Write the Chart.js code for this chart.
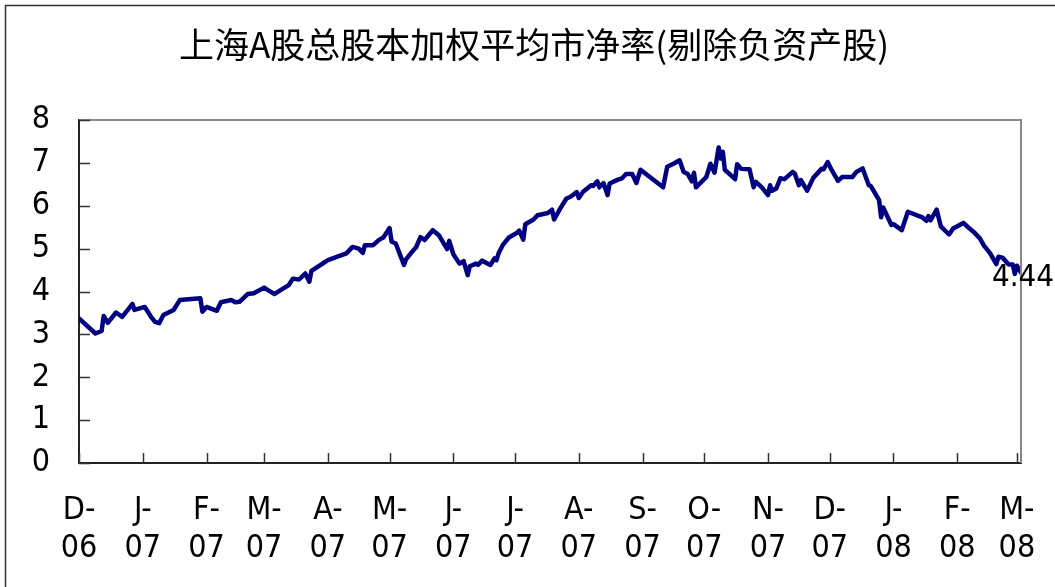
<!DOCTYPE html>
<html>
<head>
<meta charset="utf-8">
<script src="https://cdn.jsdelivr.net/npm/chart.js@4/dist/chart.umd.min.js"></script>
<style>
html,body{margin:0;padding:0;background:#fff;}
#wrap{position:relative;width:1055px;height:587px;}
</style>
</head>
<body>
<div id="wrap"><canvas id="c" width="1055" height="587"></canvas></div>
<script>
const chartTitle = '上海A股总股本加权平均市净率(剔除负资产股)';
const startDate = '2006-12-01';
// trading days, as day offsets from startDate
const dayOffsets = [
  0,8,11,12,14,18,21,26,27,32,
  35,37,39,41,46,49,59,60,62,67,
  69,74,76,78,82,85,90,95,98,102,
  104,107,110,112,113,119,121,130,133,136,
  138,139,143,146,148,151,152,154,158,159,
  162,164,166,168,172,175,179,180,182,185,
  187,189,190,193,194,196,200,202,203,204,
  206,209,213,214,216,217,221,223,228,230,
  231,234,237,239,242,243,245,249,250,252,
  253,255,257,258,262,264,266,269,271,273,
  284,286,289,292,294,296,298,299,300,305,
  307,309,311,312,313,314,319,320,322,326,
  328,329,332,335,336,337,339,341,343,347,
  348,350,351,354,357,361,362,364,366,369,
  371,376,378,381,384,385,389,390,391,395,
  396,400,403,410,412,413,414,417,419,423,
  425,430,432,435,438,440,443,446,447,449,
  452,454,455,456,458
];
const pbValues = [
  3.37,3.02,3.08,3.43,3.27,3.51,3.41,3.71,3.57,3.64,
  3.41,3.29,3.26,3.45,3.57,3.80,3.84,3.53,3.64,3.55,
  3.75,3.80,3.75,3.76,3.94,3.96,4.09,3.94,4.03,4.15,
  4.30,4.28,4.42,4.23,4.48,4.67,4.73,4.89,5.04,5.00,
  4.90,5.08,5.08,5.21,5.26,5.48,5.16,5.12,4.62,4.75,
  4.93,5.04,5.27,5.20,5.43,5.31,4.99,5.18,4.87,4.65,
  4.71,4.38,4.59,4.65,4.62,4.72,4.62,4.77,4.73,4.89,
  5.08,5.26,5.37,5.42,5.21,5.57,5.68,5.78,5.83,5.91,
  5.68,5.94,6.17,6.21,6.32,6.18,6.32,6.48,6.46,6.57,
  6.43,6.53,6.25,6.52,6.61,6.64,6.74,6.74,6.53,6.84,
  6.43,6.91,6.98,7.06,6.79,6.74,6.57,6.77,6.43,6.67,
  6.98,6.77,7.36,7.10,7.26,6.84,6.62,6.97,6.86,6.85,
  6.43,6.56,6.43,6.25,6.48,6.35,6.40,6.64,6.62,6.79,
  6.75,6.48,6.60,6.35,6.65,6.86,6.85,7.02,6.83,6.58,
  6.67,6.67,6.79,6.87,6.48,6.46,6.13,5.73,5.96,5.55,
  5.57,5.43,5.86,5.73,5.65,5.76,5.66,5.91,5.52,5.33,
  5.47,5.60,5.51,5.39,5.24,5.07,4.89,4.64,4.81,4.79,
  4.63,4.63,4.41,4.60,4.44
];
const tickDates = ['2006-12-01','2007-01-01','2007-02-01','2007-03-01','2007-04-01','2007-05-01','2007-06-01','2007-07-01','2007-08-01','2007-09-01','2007-10-01','2007-11-01','2007-12-01','2008-01-01','2008-02-01','2008-03-01'];
const tickMonths = ['D-','J-','F-','M-','A-','M-','J-','J-','A-','S-','O-','N-','D-','J-','F-','M-'];
const tickYears = ['06','07','07','07','07','07','07','07','07','07','07','07','07','08','08','08'];
const yTicks = [0,1,2,3,4,5,6,7,8];
const lastLabel = '4.44';

function dayNum(s){const p=s.split('-').map(Number);return Date.UTC(p[0],p[1]-1,p[2])/86400000;}
const d0 = dayNum(startDate);
const tickDayVals = tickDates.map(s => dayNum(s) - d0);
const points = dayOffsets.map((d,i)=>({x:d,y:pbValues[i]}));

const FONT = "'Liberation Sans Narrow','DejaVu Sans Condensed','Liberation Sans',sans-serif";

const decor = {
  id:'decor',
  beforeDraw(chart){
    const ctx=chart.ctx;
    ctx.save();
    ctx.fillStyle='#fff';ctx.fillRect(0,0,chart.width,chart.height);
    ctx.strokeStyle='#333';ctx.lineWidth=1.5;
    ctx.strokeRect(5.5,5.5,2000,2000);
    ctx.fillStyle='#000';
    ctx.font="35px 'Noto Sans CJK SC',sans-serif";
    ctx.textAlign='center';ctx.textBaseline='middle';
    ctx.fillText(chartTitle, 534, 45);
    ctx.restore();
  },
  afterDatasetsDraw(chart){
    const ctx=chart.ctx, a=chart.chartArea;
    const xs=chart.scales.x, ys=chart.scales.y;
    ctx.save();
    ctx.strokeStyle='#888';ctx.lineWidth=2;
    ctx.beginPath();ctx.moveTo(a.left,a.top);ctx.lineTo(a.right,a.top);ctx.lineTo(a.right,a.bottom);ctx.stroke();
    ctx.strokeStyle='#333';ctx.lineWidth=1.5;
    ctx.beginPath();
    xs.ticks.forEach(t=>{const px=Math.round(xs.getPixelForValue(t.value))+0.5;ctx.moveTo(px,a.bottom);ctx.lineTo(px,a.bottom-10);});
    ys.ticks.forEach(t=>{const py=Math.round(ys.getPixelForValue(t.value))+0.5;ctx.moveTo(a.left,py);ctx.lineTo(a.left+11,py);});
    ctx.stroke();
    const meta=chart.getDatasetMeta(0);
    const el=meta.data[meta.data.length-1];
    ctx.fillStyle='#000';
    ctx.font='31px '+FONT;
    ctx.textAlign='center';ctx.textBaseline='middle';
    ctx.fillText(lastLabel, el.x+2, el.y+5);
    ctx.restore();
  }
};

new Chart(document.getElementById('c'),{
  type:'line',
  data:{datasets:[{data:points,borderColor:'#000080',borderWidth:4.5,pointRadius:0,tension:0,fill:false,borderJoinStyle:'round',borderCapStyle:'round'}]},
  options:{
    responsive:false,animation:false,
    layout:{padding:{left:0,right:34,top:120,bottom:0}},
    plugins:{legend:{display:false},tooltip:{enabled:false},title:{display:false}},
    scales:{
      x:{type:'linear',min:0,max:dayOffsets[dayOffsets.length-1],
        afterBuildTicks(s){s.ticks=tickDayVals.map(v=>({value:v}));},
        afterFit(s){s.height=124;s.paddingLeft=0;s.paddingRight=0;},
        grid:{display:false,drawTicks:false},
        border:{display:true,color:'#222',width:2},
        ticks:{autoSkip:false,maxRotation:0,padding:28,color:'#000',
          font:{family:FONT,size:32,lineHeight:1.2},
          callback(v,i){return [tickMonths[i],tickYears[i]];}}
      },
      y:{type:'linear',min:0,max:8,
        afterBuildTicks(s){s.ticks=yTicks.map(v=>({value:v}));},
        afterFit(s){s.width=79;s.paddingTop=0;s.paddingBottom=0;},
        grid:{display:false,drawTicks:false},
        border:{display:true,color:'#222',width:2},
        ticks:{padding:29,color:'#000',font:{family:FONT,size:32}}
      }
    }
  },
  plugins:[decor]
});
</script>
</body>
</html>
